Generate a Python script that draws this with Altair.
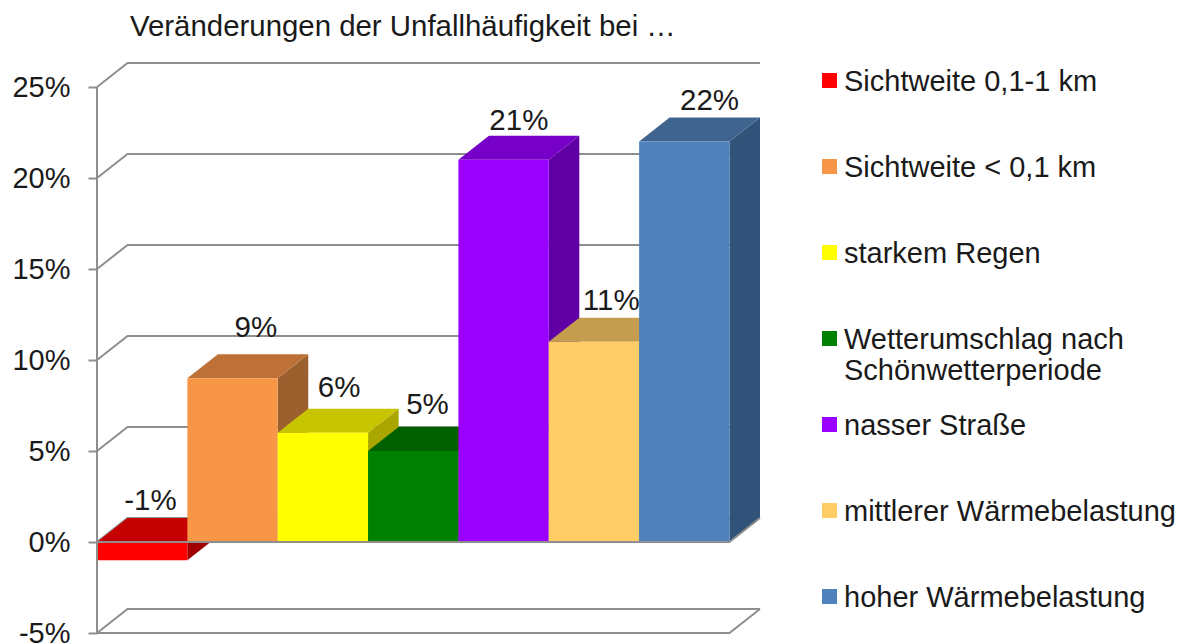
import altair as alt
import pandas as pd

categories = ["Sichtweite 0,1-1 km", "Sichtweite < 0,1 km", "starkem Regen",
              "Wetterumschlag nach|Schönwetterperiode", "nasser Straße",
              "mittlerer Wärmebelastung", "hoher Wärmebelastung"]
values = [-1, 9, 6, 5, 21, 11, 22]
value_labels = ["-1%", "9%", "6%", "5%", "21%", "11%", "22%"]
front_colors = ["#FF0000", "#F79646", "#FFFF00", "#008000", "#9900FF", "#FFCC66", "#4F81BD"]
top_colors = ["#C40000", "#BE7136", "#C8C400", "#006000", "#7700C8", "#C49E4E", "#3F648F"]
side_colors = ["#A00000", "#9C602E", "#AAA600", "#005000", "#6000A4", "#A5853F", "#325379"]
y_ticks = [-5, 0, 5, 10, 15, 20, 25]

FONT = "Liberation Sans"
GREY = "#8E8E8E"
DX = 0.338          # depth of the fake 3D box in bar widths
DY = 1.32           # depth of the fake 3D box in percent points
X_END = len(values) + DX
label_dx = [-7, 8, 1, -1, 0, 2, 10]
label_dy = [-17, -26, -21, -22, -15, -17, -17]

x_scale = alt.Scale(domain=[0, X_END], nice=False, zero=False)
y_scale = alt.Scale(domain=[-5, 25 + DY], nice=False, zero=False)
y_axis = alt.Axis(
    values=y_ticks, labelExpr="datum.value + '%'", domain=False, grid=False,
    tickSize=9, tickColor=GREY, tickWidth=2, labelFont=FONT, labelFontSize=29,
    labelColor="#1a1a1a", labelPadding=18, title=None)
X = lambda f: alt.X(f, type="quantitative", scale=x_scale, axis=None)
Y = lambda f: alt.Y(f, type="quantitative", scale=y_scale, axis=y_axis)
color_scale = alt.Scale(domain=categories, range=front_colors)
legend = alt.Legend(
    title=None, orient="none", legendX=718, legendY=-10, padding=0, gridAlign="all",
    symbolType="M-1,0.73 H1 V2.73 H-1 Z", symbolSize=225, symbolStrokeWidth=0,
    labelFont=FONT, labelFontSize=29, labelColor="#1a1a1a", labelBaseline="top",
    labelLimit=400, rowPadding=11, labelOffset=0,
    labelExpr="split(datum.label, '|')",
)

layers = []

# back wall and floor lines
grid = []
for v in y_ticks:
    for i, (px, py) in enumerate([(0, v), (DX, v + DY), (X_END, v + DY)]):
        grid.append({"k": f"g{v}", "i": i, "x": px, "y": py})
layers.append(
    alt.Chart(pd.DataFrame(grid)).mark_line(color=GREY, strokeWidth=2).encode(
        x=X("x"), y=Y("y"), detail="k:N", order="i:Q")
)

# boxes, left to right, so that later boxes cover earlier ones
for i, (cat, v) in enumerate(zip(categories, values)):
    top = max(v, 0)
    side = pd.DataFrame({"x": [i + 1, i + 1 + DX], "y": [min(v, 0), min(v, 0) + DY],
                         "y2": [top, top + DY]})
    layers.append(alt.Chart(side).mark_area(orient="vertical", color=side_colors[i]).encode(
        x=X("x"), y=Y("y"), y2="y2:Q"))
    cap = pd.DataFrame({"y": [top, top + DY], "x": [i, i + DX], "x2": [i + 1, i + 1 + DX]})
    layers.append(alt.Chart(cap).mark_area(orient="horizontal", color=top_colors[i]).encode(
        y=Y("y"), x=X("x"), x2="x2:Q"))
    front = pd.DataFrame({"c": [cat], "x": [i], "x2": [i + 1], "y": [min(v, 0)], "y2": [top]})
    layers.append(alt.Chart(front).mark_rect().encode(
        x=X("x"), x2="x2:Q", y=Y("y"), y2="y2:Q",
        color=alt.Color("c:N", scale=color_scale, legend=legend)))

# floor edges in front, and the vertical axis
front_lines = [
    ("a", 0, 0, 0), ("a", 1, len(values), 0), ("a", 2, X_END, DY),
    ("b", 0, 0, -5), ("b", 1, len(values), -5), ("b", 2, X_END, -5 + DY),
    ("c", 0, 0, -5), ("c", 1, 0, 25),
]
layers.append(
    alt.Chart(pd.DataFrame(front_lines, columns=["k", "i", "x", "y"]))
    .mark_line(color=GREY, strokeWidth=2)
    .encode(x=X("x"), y=Y("y"), detail="k:N", order="i:Q")
)

# value labels
for i, (v, t) in enumerate(zip(values, value_labels)):
    d = pd.DataFrame({"x": [i + 0.5 + DX / 2], "y": [max(v, 0) + DY], "t": [t]})
    layers.append(alt.Chart(d).mark_text(
        font=FONT, fontSize=29.5, color="#1a1a1a", dx=label_dx[i], dy=label_dy[i]
    ).encode(x=X("x"), y=Y("y"), text="t:N"))

chart = alt.layer(*layers).properties(
    width=663, height=570,
    title=alt.TitleParams("Veränderungen der Unfallhäufigkeit bei …", anchor="start", frame="group",
                          font=FONT, fontSize=29.4, fontWeight="normal", color="#1a1a1a",
                          dx=33, offset=11),
    autosize=alt.AutoSizeParams(type="none"),
    padding={"left": 89, "top": 55, "right": 417, "bottom": 10},
).configure_view(stroke=None)

chart.save("out.html", embed_options={"renderer": "svg", "actions": False})
